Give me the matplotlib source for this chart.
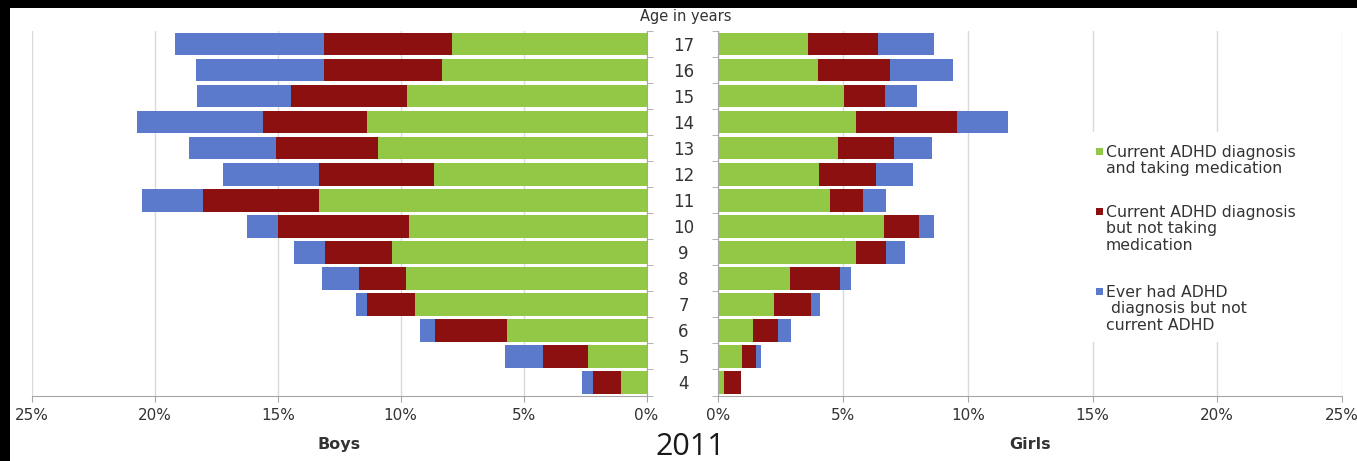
import numpy as np
import matplotlib.pyplot as plt
from matplotlib.patches import Rectangle

ages = list(range(4, 18))

# share of each age group (%), ages 4..17
boys_med = [1.05, 2.38, 5.66, 9.43, 9.80, 10.36, 9.66, 13.31, 8.66, 10.94, 11.36, 9.73, 8.31, 7.90]
boys_nomed = [1.12, 1.83, 2.94, 1.94, 1.89, 2.72, 5.32, 4.72, 4.65, 4.15, 4.23, 4.75, 4.81, 5.22]
boys_past = [0.46, 1.55, 0.62, 0.43, 1.53, 1.26, 1.27, 2.49, 3.92, 3.54, 5.14, 3.80, 5.20, 6.07]

girls_med = [0.24, 0.95, 1.40, 2.25, 2.89, 5.53, 6.64, 4.48, 4.04, 4.80, 5.53, 5.04, 4.00, 3.60]
girls_nomed = [0.68, 0.58, 1.01, 1.48, 1.98, 1.18, 1.39, 1.32, 2.29, 2.23, 4.04, 1.65, 2.89, 2.80]
girls_past = [0.00, 0.18, 0.52, 0.36, 0.46, 0.76, 0.60, 0.91, 1.47, 1.53, 2.03, 1.27, 2.51, 2.23]

legend_labels = [
    "Current ADHD diagnosis\nand taking medication",
    "Current ADHD diagnosis\nbut not taking\nmedication",
    "Ever had ADHD\n diagnosis but not\ncurrent ADHD",
]
x_ticks = [0, 5, 10, 15, 20, 25]

GREEN = "#92c846"
RED = "#8c1010"
BLUE = "#5c7acc"
colors = [GREEN, RED, BLUE]
GRID = "#d9d9d9"
AXIS = "#a6a6a6"
TEXT = "#333333"

W, H = 1357, 461
fig = plt.figure(figsize=(W / 100, H / 100), dpi=100)


def box(x0, x1, ytop, ybot):
    return [x0 / W, 1 - ybot / H, (x1 - x0) / W, (ybot - ytop) / H]


ax_b = fig.add_axes(box(32, 646.5, 31, 395.5))
ax_g = fig.add_axes(box(718.3, 1342, 31, 395.5))

y = np.arange(len(ages))
bar_h = 0.87


def stacked(ax, parts):
    left = np.zeros(len(ages))
    for vals, c in zip(parts, colors):
        ax.barh(y, vals, height=bar_h, left=left, color=c, linewidth=0)
        left += np.array(vals)


stacked(ax_b, [boys_med, boys_nomed, boys_past])
stacked(ax_g, [girls_med, girls_nomed, girls_past])

for ax in (ax_b, ax_g):
    ax.set_ylim(-0.5, len(ages) - 0.5)
    ax.set_xticks(x_ticks)
    ax.set_xticklabels([f"{v}%" for v in x_ticks])
    ax.grid(axis="x", color=GRID, linewidth=1)
    ax.set_axisbelow(True)
    ax.spines["top"].set_visible(False)
    for s in ax.spines.values():
        s.set_color(AXIS)
    ax.tick_params(axis="x", length=4, color=AXIS, labelsize=11, pad=5,
                   labelcolor=TEXT)
    ax.set_yticks(np.arange(-0.5, len(ages)), minor=True)
    ax.tick_params(axis="y", which="minor", length=4, color=AXIS)
    ax.tick_params(axis="y", which="major", length=0)

ax_b.set_xlim(25, 0)
ax_b.spines["left"].set_visible(False)
ax_b.yaxis.tick_right()
ax_b.set_yticks([])
ax_b.set_yticks(np.arange(-0.5, len(ages)), minor=True)

ax_g.set_xlim(0, 25)
ax_g.spines["right"].set_visible(False)
ax_g.set_yticks(y)
ax_g.set_yticklabels([str(a) for a in ages], ha="center", fontsize=12,
                     color=TEXT)
ax_g.tick_params(axis="y", which="major", pad=25)

ax_b.set_xlabel("Boys", fontsize=11.5, fontweight="bold", color=TEXT, labelpad=10)
ax_g.set_xlabel("Girls", fontsize=11.5, fontweight="bold", color=TEXT, labelpad=10)

fig.text(686 / W, 1 - 16 / H, "Age in years", ha="center", va="center",
         fontsize=10.5, color=TEXT)
fig.text(690 / W, 1 - 455 / H, "2011", ha="center", va="baseline",
         fontsize=22, family="Open Sans", color="#1a1a1a")

# legend panel, drawn over the gridlines
fig.patches.append(Rectangle((1080 / W, 1 - 342 / H), 252 / W, 210 / H,
                             transform=fig.transFigure, facecolor="white",
                             edgecolor="none", zorder=3))
legend_tops = [145, 205, 285]
for lab, c, top in zip(legend_labels, colors, legend_tops):
    fig.patches.append(Rectangle((1096 / W, 1 - (top + 10) / H), 7 / W, 7 / H,
                                 transform=fig.transFigure, facecolor=c,
                                 edgecolor="none", zorder=4))
    fig.text(1106 / W, 1 - top / H, lab, ha="left", va="top", fontsize=11.3,
             linespacing=1.12, color=TEXT, zorder=5)

# dark frame along the top and left edges
fig.patches.append(Rectangle((0, 1 - 8 / H), 1, 8 / H, transform=fig.transFigure,
                             facecolor="black", edgecolor="none", zorder=10))
fig.patches.append(Rectangle((0, 0), 10 / W, 1, transform=fig.transFigure,
                             facecolor="black", edgecolor="none", zorder=10))

fig.savefig("out.png", dpi=100)
